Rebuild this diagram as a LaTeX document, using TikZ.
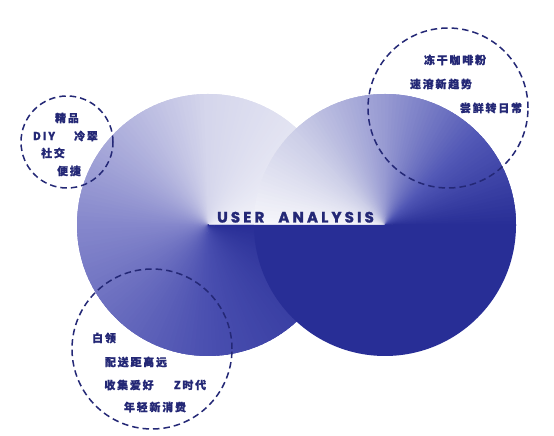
\documentclass[tikz,border=0pt]{standalone}
\usepackage{fontspec}
\newfontfamily\cjkfont{Noto Sans CJK SC}[LetterSpace=16, BoldFeatures={FakeBold=0.8}]
\newfontfamily\titlefont{Poppins}[LetterSpace=21, BoldFeatures={FakeBold=1.5}]
\definecolor{navy}{RGB}{36,40,118}
\definecolor{deepblue}{RGB}{40,46,150}
\tikzset{
  ring/.style={draw=navy, line width=1.5pt, dash pattern=on 6.5pt off 4pt},
  tag/.style={text=navy, font=\cjkfont\bfseries\fontsize{11}{12}\selectfont, inner sep=0pt},
  title/.style={text=navy, font=\titlefont\bfseries\fontsize{15}{16}\selectfont, inner sep=0pt}
}
\begin{document}
\begin{tikzpicture}[x=1pt,y=1pt]
\useasboundingbox (0,0) rectangle (554,436);
\fill[white] (0,0) rectangle (554,436);
\coordinate (C1) at (208,211);
\coordinate (C2) at (385,211);
% left circle: conic gradient counterclockwise from 0
\begin{scope}
\clip (C1) circle[radius=131];
\foreach \sa/\ea/\ra/\ga/\ba/\rb/\gb/\bb in {
  0/90/244/244/250/213/214/236,
  90/180/213/214/236/133/135/204,
  180/270/133/135/204/74/79/176,
  270/360/74/79/176/40/46/150}{
  \foreach \k in {0,...,44}{
    \pgfmathsetmacro\myT{\k/45}
    \pgfmathsetmacro\myA{\sa+(\ea-\sa)*\myT}
    \pgfmathsetmacro\myE{min(\sa+(\ea-\sa)*(\k+1)/45+3,360)}
    \pgfmathtruncatemacro\myR{\ra+(\rb-\ra)*\myT}
    \pgfmathtruncatemacro\myG{\ga+(\gb-\ga)*\myT}
    \pgfmathtruncatemacro\myB{\ba+(\bb-\ba)*\myT}
    \definecolor{tmpc}{RGB}{\myR,\myG,\myB}
    \fill[tmpc] (C1) -- ++(\myA:140) arc[start angle=\myA, end angle=\myE, radius=140] -- cycle;
  }
}
\end{scope}
% right circle: conic gradient clockwise from 180, lower half solid
\begin{scope}
\clip (C2) circle[radius=131];
\foreach \sa/\ea/\ra/\ga/\ba/\rb/\gb/\bb in {
  180/135/246/246/251/205/207/232,
  135/90/205/207/232/150/153/210,
  90/45/150/153/210/82/88/182,
  45/0/82/88/182/40/46/150}{
  \foreach \k in {0,...,24}{
    \pgfmathsetmacro\myT{\k/25}
    \pgfmathsetmacro\myA{\sa+(\ea-\sa)*\myT}
    \pgfmathsetmacro\myE{\sa+(\ea-\sa)*(\k+1)/25-3}
    \pgfmathtruncatemacro\myR{\ra+(\rb-\ra)*\myT}
    \pgfmathtruncatemacro\myG{\ga+(\gb-\ga)*\myT}
    \pgfmathtruncatemacro\myB{\ba+(\bb-\ba)*\myT}
    \definecolor{tmpc}{RGB}{\myR,\myG,\myB}
    \fill[tmpc] (C2) -- ++(\myA:140) arc[start angle=\myA, end angle=\myE, radius=140] -- cycle;
  }
}
\fill[deepblue] (C2) -- ++(180:140) arc[start angle=180, end angle=360, radius=140] -- cycle;
\end{scope}
% dashed rings
\node[ring, circle, minimum size=92pt, inner sep=0pt] (r1) at (67,294) {};
\node[ring, circle, minimum size=160pt, inner sep=0pt] (r2) at (448,328) {};
\node[ring, circle, minimum size=160pt, inner sep=0pt] (r3) at (152,87) {};
% title
\node[title, anchor=base west] (ttl) at (217,213.5) {USER\hspace{14pt}ANALYSIS};
% tags
\node[tag] (t1) at (67,318) {精品};
\node[tag] (t2) at (44,300) {DIY};
\node[tag] (t3) at (86,300) {冷翠};
\node[tag] (t4) at (53,283) {社交};
\node[tag] (t5) at (69,265) {便捷};
\node[tag] (t6) at (455,376) {冻干咖啡粉};
\node[tag] (t7) at (441,352) {速溶新趋势};
\node[tag] (t8) at (491,328) {尝鲜转日常};
\node[tag] (t9) at (104,98) {白领};
\node[tag] (t10) at (136,74) {配送距离远};
\node[tag] (t11) at (129,51) {收集爱好};
\node[tag] (t12) at (190,51) {Z时代};
\node[tag] (t13) at (155,29) {年轻新消费};
\end{tikzpicture}
\end{document}
